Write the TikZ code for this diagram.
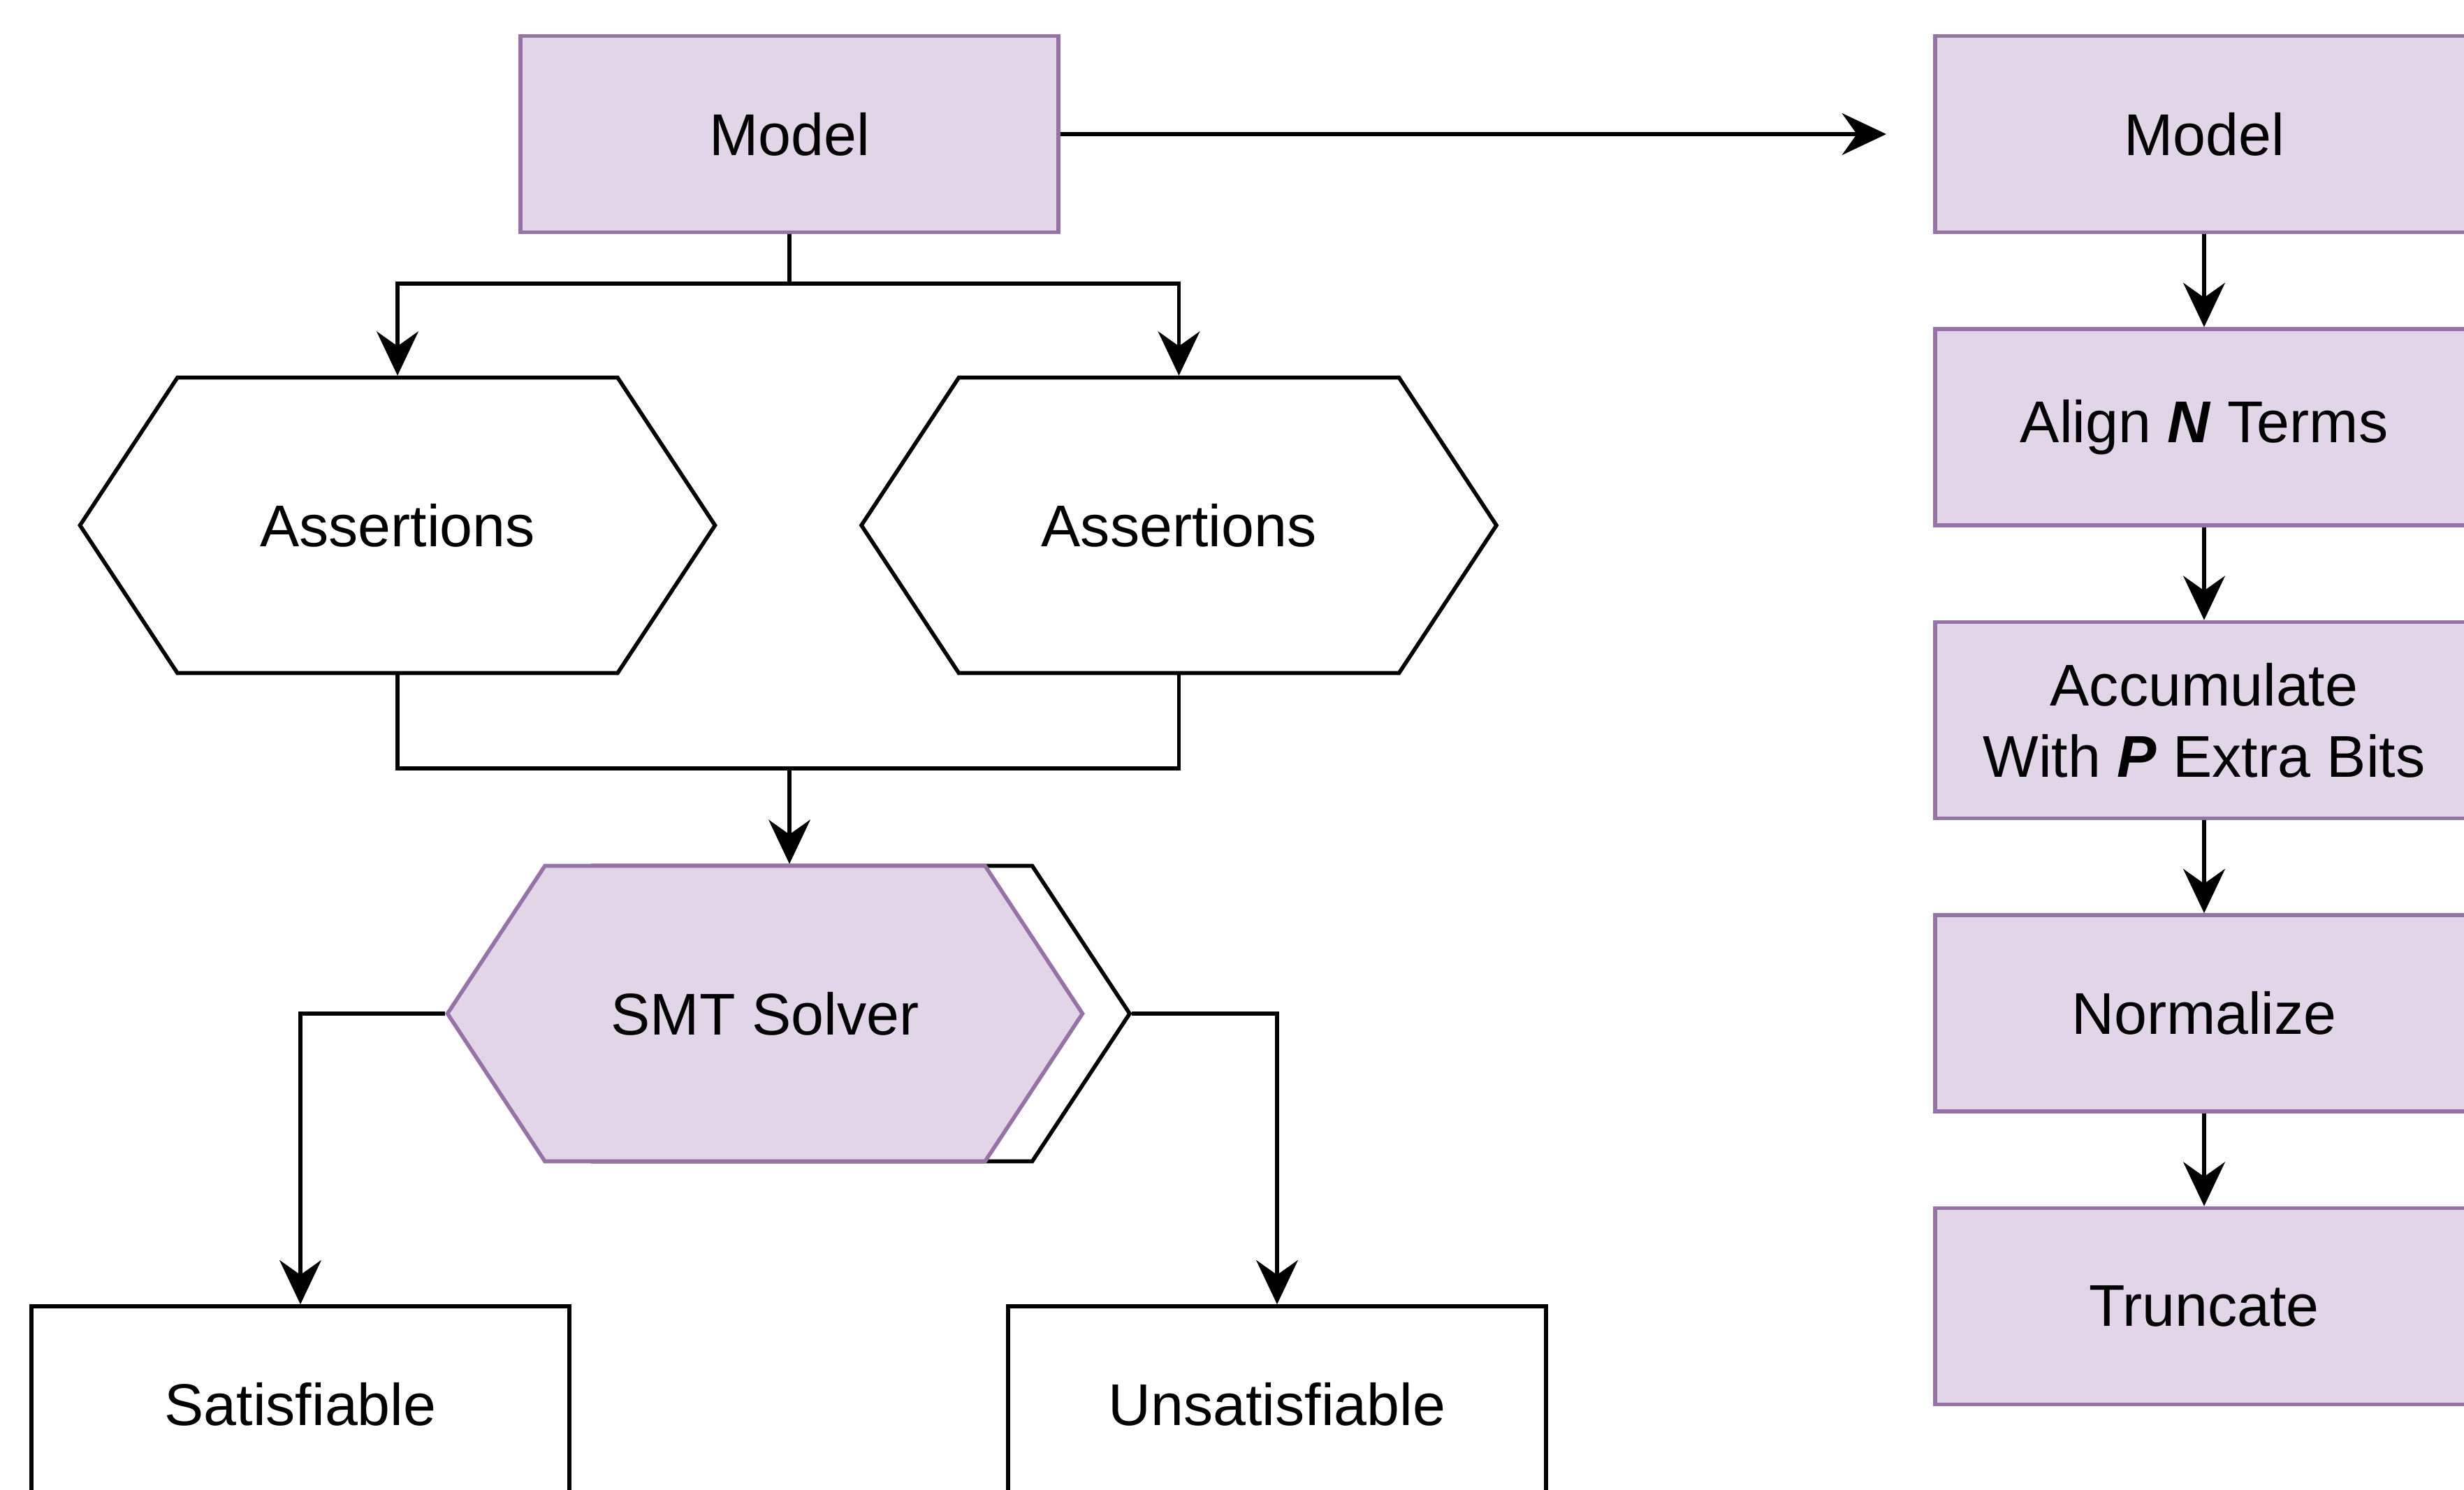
\documentclass[tikz,border=0pt]{standalone}
\usepackage{fontspec}
\setmainfont{Liberation Sans}
\usetikzlibrary{shapes.symbols,arrows.meta}
\definecolor{stagefill}{HTML}{E1D5E7}
\definecolor{stageline}{HTML}{9673A6}
\tikzset{
  stage/.style={rectangle, draw=stageline, fill=stagefill, line width=1.6pt,
    minimum width=7.7cm, minimum height=2.81cm, align=center,
    font=\fontsize{24}{29}\selectfont},
  outcome/.style={stage, draw=black, fill=white},
  hexbox/.style={signal, signal to=west and east, signal pointer angle=113.2,
    draw=black, fill=white, line width=1.6pt, inner sep=0pt,
    minimum width=9.09cm, minimum height=4.23cm,
    font=\fontsize{24}{29}\selectfont},
  solverbox/.style={hexbox, draw=stageline, fill=stagefill},
  arr/.style={-{Stealth[length=18pt,width=17pt,inset=6pt]}},
}
\begin{document}
\begin{tikzpicture}
      \useasboundingbox (0,0) rectangle (35.27,-21.32);
      % left: checking
      \node[stage] (modelL) at (11.30,-1.92) {Model};
      \node[hexbox] (asrtA) at (5.69,-7.52) {Assertions};
      \node[hexbox] (asrtB) at (16.875,-7.52) {Assertions};
      \node[hexbox] (smtBack) at (11.625,-14.51) {};
      \node[solverbox] (smt) at (10.95,-14.51) {SMT Solver};
      \node[outcome] (sat) at (4.30,-20.105) {Satisfiable};
      \node[outcome] (unsat) at (18.28,-20.105) {Unsatisfiable};
      \coordinate (join) at (11.30,-11.0);
      % right: model steps
      \node[stage] (modelR) at (31.55,-1.92) {Model};
      \node[stage] (align) at (31.55,-6.115) {Align \textbf{\textit{N}} Terms};
      \node[stage] (accum) at (31.55,-10.31) {Accumulate\\With \textbf{\textit{P}} Extra Bits};
      \node[stage] (norm) at (31.55,-14.505) {Normalize};
      \node[stage] (trunc) at (31.55,-18.70) {Truncate};
      \coordinate (modelIn) at (27.0,-1.92);
      \begin{scope}[arr, line width=1.6pt]
        \draw (modelL.east) to (modelIn);
        \draw (modelL.south) -- ++(0,-0.705) -| (asrtA.north);
        \draw (modelL.south) -- ++(0,-0.705) -| (asrtB.north);
        \draw[-] (asrtA.south) |- (join) -| (asrtB.south);
        \draw (join) to (join |- smt.north);
        \draw (smt.west) -| (sat.north);
        \draw (smtBack.east) -| (unsat.north);
        \draw (modelR) to (align);
        \draw (align) to (accum);
        \draw (accum) to (norm);
        \draw (norm) to (trunc);
      \end{scope}
    \end{tikzpicture}
\end{document}
